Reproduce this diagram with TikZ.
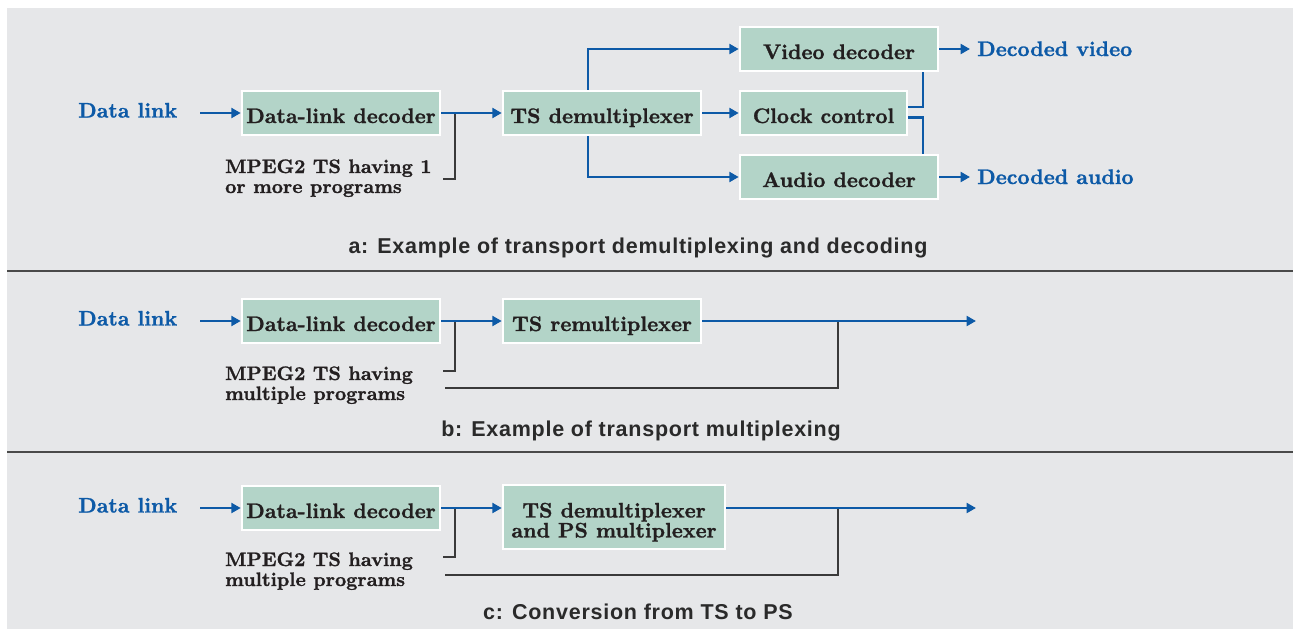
\documentclass[tikz,border=0pt]{standalone}
\usepackage{fontspec}
\usetikzlibrary{arrows.meta,calc}
\newfontfamily\capfont{Liberation Sans}[LetterSpace=3.5]
\newfontfamily\boldserif{lmroman10-bold}[Extension=.otf, FakeBold=1.2]
\definecolor{panelgray}{HTML}{E6E7E9}
\definecolor{boxgreen}{HTML}{B3D4C8}
\definecolor{linkblue}{HTML}{0D5AA7}
\definecolor{ink}{HTML}{231F20}
\definecolor{capink}{HTML}{2A2A2A}
\definecolor{darkline}{HTML}{3A3A3A}
\definecolor{sepgray}{HTML}{4A4A4A}
\tikzset{
  box/.style={draw=white, line width=2.5pt, fill=boxgreen, inner sep=0pt,
    minimum width=198pt, minimum height=44pt, text height=24pt, text depth=4pt,
    font=\boldserif\fontsize{21}{21}\selectfont, text=ink},
  bline/.style={draw=linkblue, line width=2.5pt},
  barrow/.style={bline, -{Triangle[length=9.5pt,width=10pt]}},
  kline/.style={draw=darkline, line width=1.4pt},
  sepline/.style={draw=sepgray, line width=2pt},
  bluetext/.style={text=linkblue, font=\boldserif\fontsize{21}{21}\selectfont,
    inner sep=0pt, anchor=base west},
  note/.style={text=ink, font=\boldserif\fontsize{19.5}{20}\selectfont,
    inner sep=0pt, anchor=base west},
  caption/.style={text=capink, font=\capfont\bfseries\fontsize{21.5}{22}\selectfont,
    inner sep=0pt, anchor=base},
}
\begin{document}
\begin{tikzpicture}[x=1pt,y=-1pt]
\useasboundingbox (0,0) rectangle (1293,629);
% panel background and separators
\fill[panelgray] (7,8) rectangle (1293,629);
\draw[sepline] (7,270.5) -- (1293,270.5);
\draw[sepline] (7,452) -- (1293,452);

% ---------- a: transport demultiplexing and decoding ----------
\node[bluetext] (dlinka) at (78,117.5) {Data link};
\node[box] (dla) at (341,113) {Data-link decoder};
\node[box] (tsda) at (602,113) {TS demultiplexer};
\node[box] (vid) at (839,49) {Video decoder};
\node[box, minimum width=167pt] (clk) at (823.5,113) {Clock control};
\node[box] (aud) at (839,177) {Audio decoder};
\node[note] (nota1) at (225,173) {MPEG2 TS having 1};
\node[note] (nota2) at (225,193) {or more programs};
\node[bluetext] (dvid) at (977,56) {Decoded video};
\node[bluetext] (daud) at (977,184) {Decoded audio};
\node[caption] (capa) at (638,253) {a: Example of transport demultiplexing and decoding};

\coordinate (ina) at (200,113);
\coordinate (ja) at (455,113);
\coordinate (ja2) at (443,179);
\coordinate (vout) at (970,49);
\coordinate (aout) at (970,177);
\draw[kline] (ja) |- (ja2);
\draw[barrow] (ina) -- (dla.west);
\draw[barrow] (dla.east) -- (tsda.west);
\draw[barrow] ($(tsda.north)+(-14,0)$) |- (vid.west);
\draw[barrow] ($(tsda.south)+(-14,0)$) |- (aud.west);
\draw[barrow] (tsda.east) -- (clk.west);
\draw[bline] ($(clk.east)+(0,-6)$) -| ($(vid.south)+(84,0)$);
\draw[bline] ($(clk.east)+(0,4.5)$) -| ($(aud.north)+(84,0)$);
\draw[barrow] (vid.east) -- (vout);
\draw[barrow] (aud.east) -- (aout);

% ---------- b: transport multiplexing ----------
\node[bluetext] (dlinkb) at (78,325.5) {Data link};
\node[box] (dlb) at (341,321) {Data-link decoder};
\node[box] (tsr) at (602,321) {TS remultiplexer};
\node[note] (notb1) at (225,380) {MPEG2 TS having};
\node[note] (notb2) at (225,400) {multiple programs};
\node[caption] (capb) at (641,436) {b: Example of transport multiplexing};

\coordinate (inb) at (200,321);
\coordinate (outb) at (976,321);
\coordinate (jb) at (455,321);
\coordinate (jb2) at (443,371);
\coordinate (kb) at (838,321);
\coordinate (kb2) at (445,388);
\draw[kline] (jb) |- (jb2);
\draw[kline] (kb2) -| (kb);
\draw[barrow] (inb) -- (dlb.west);
\draw[barrow] (dlb.east) -- (tsr.west);
\draw[barrow] (tsr.east) -- (outb);

% ---------- c: conversion from TS to PS ----------
\node[bluetext] (dlinkc) at (78,512.5) {Data link};
\node[box] (dlc) at (341,508) {Data-link decoder};
\node[box, minimum width=222pt, minimum height=64pt, align=center,
      text height=, text depth=] (tdpm) at (614,517)
      {\rule{0pt}{25pt}TS demultiplexer\\[-1pt]and PS multiplexer\rule[-4pt]{0pt}{4pt}};
\node[note] (notc1) at (225,566) {MPEG2 TS having};
\node[note] (notc2) at (225,586) {multiple programs};
\node[caption] (capc) at (638,619) {c: Conversion from TS to PS};

\coordinate (inc) at (200,508);
\coordinate (outc) at (976,508);
\coordinate (jc) at (455,508);
\coordinate (jc2) at (443,557);
\coordinate (kc) at (838,508);
\coordinate (kc2) at (445,575);
\draw[kline] (jc) |- (jc2);
\draw[kline] (kc2) -| (kc);
\draw[barrow] (inc) -- (dlc.west);
\draw[barrow] (dlc.east) -- (dlc.east -| tdpm.west);
\draw[barrow] (tdpm.east |- dlc.east) -- (outc);
\end{tikzpicture}
\end{document}
